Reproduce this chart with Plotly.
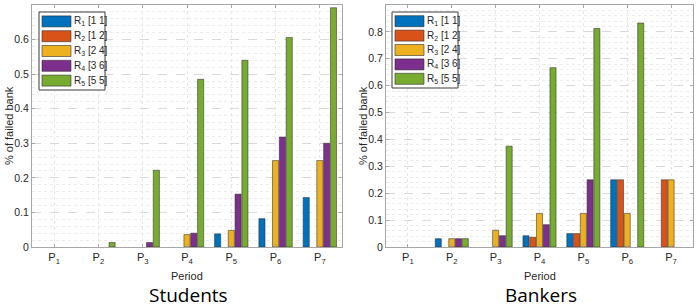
import plotly.graph_objects as go

periods = [1, 2, 3, 4, 5, 6, 7]
period_labels = ["P<sub>1</sub>", "P<sub>2</sub>", "P<sub>3</sub>", "P<sub>4</sub>",
                 "P<sub>5</sub>", "P<sub>6</sub>", "P<sub>7</sub>"]
series_names = ["R<sub>1</sub> [1 1]", "R<sub>2</sub> [1 2]", "R<sub>3</sub> [2 4]",
                "R<sub>4</sub> [3 6]", "R<sub>5</sub> [5 5]"]
colors = ["#0072BD", "#D95319", "#EDB120", "#7E2F8E", "#77AC30"]

# Students
students_R1 = [0, 0, 0, 0, 0.038, 0.082, 0.143]
students_R2 = [0, 0, 0, 0, 0, 0, 0]
students_R3 = [0, 0, 0, 0.036, 0.048, 0.25, 0.25]
students_R4 = [0, 0, 0.013, 0.040, 0.153, 0.318, 0.30]
students_R5 = [0, 0.013, 0.222, 0.485, 0.54, 0.606, 0.692]

# Bankers
bankers_R1 = [0, 0.031, 0, 0.042, 0.05, 0.25, 0]
bankers_R2 = [0, 0, 0, 0.036, 0.05, 0.25, 0.25]
bankers_R3 = [0, 0.031, 0.0625, 0.125, 0.125, 0.125, 0.25]
bankers_R4 = [0, 0.031, 0.042, 0.083, 0.25, 0, 0]
bankers_R5 = [0, 0.031, 0.375, 0.667, 0.8125, 0.833, 0]

students = [students_R1, students_R2, students_R3, students_R4, students_R5]
bankers = [bankers_R1, bankers_R2, bankers_R3, bankers_R4, bankers_R5]

W, H = 696, 308


def px(x):
    return x / W


def py(y):
    return 1 - y / H


fig = go.Figure()

for i, (vals, name, col) in enumerate(zip(students, series_names, colors)):
    fig.add_trace(go.Bar(x=periods, y=[v if v > 0 else None for v in vals], name=name,
                         marker=dict(color=col, line=dict(color="rgba(40,40,40,0.75)", width=0.7)),
                         xaxis="x", yaxis="y", showlegend=False, offsetgroup=str(i)))
for i, (vals, name, col) in enumerate(zip(bankers, series_names, colors)):
    fig.add_trace(go.Bar(x=periods, y=[v if v > 0 else None for v in vals], name=name,
                         marker=dict(color=col, line=dict(color="rgba(40,40,40,0.75)", width=0.7)),
                         xaxis="x2", yaxis="y2", showlegend=False, offsetgroup=str(i)))

xtickfont = dict(family="Liberation Sans, Arial", size=11, color="#262626")
ytickfont = dict(family="Liberation Sans, Arial", size=10.5, color="#262626")
xcommon = dict(range=[0.5, 7.5], tickvals=periods, ticktext=period_labels,
               showline=True, linecolor="#a6a6a6", linewidth=1, mirror="ticks",
               ticks="inside", ticklen=3, tickcolor="#a6a6a6", automargin=False,
               showgrid=True, gridcolor="#e6e6e6", griddash="dot", gridwidth=1,
               zeroline=False, tickfont=xtickfont)
ycommon = dict(showline=True, linecolor="#a6a6a6", linewidth=1, mirror="ticks",
               ticks="inside", ticklen=3, tickcolor="#a6a6a6", dtick=0.1, tick0=0,
               automargin=False,
               showgrid=True, gridcolor="#d9d9d9", griddash="dash", gridwidth=1,
               minor=dict(dtick=0.02, showgrid=True, gridcolor="#ececec", griddash="dot", ticks=""),
               zeroline=False, tickfont=ytickfont)

fig.update_layout(
    width=W, height=H,
    margin=dict(l=0, r=0, t=0, b=0, autoexpand=False),
    paper_bgcolor="white", plot_bgcolor="white",
    barmode="group", bargap=0.23, bargroupgap=0.1,
    xaxis=dict(domain=[px(32), px(342)], anchor="y", **xcommon),
    yaxis=dict(domain=[py(247), py(5)], anchor="x", range=[0, 0.7], **ycommon),
    xaxis2=dict(domain=[px(386), px(693)], anchor="y2", **xcommon),
    yaxis2=dict(domain=[py(247), py(5)], anchor="x2", range=[0, 0.9], **ycommon),
    showlegend=False,
)

shapes = []
annotations = []


def add_legend(x0, x1, y0, y1, patch_x0, patch_x1, text_x):
    shapes.append(dict(type="rect", xref="paper", yref="paper",
                       x0=px(x0), x1=px(x1), y0=py(y1), y1=py(y0),
                       line=dict(color="#3a3a3a", width=1), fillcolor="white", layer="above"))
    pitch = (y1 - y0 - 4) / 5
    for k in range(5):
        cy = y0 + 2 + pitch * (k + 0.5)
        shapes.append(dict(type="rect", xref="paper", yref="paper",
                           x0=px(patch_x0), x1=px(patch_x1), y0=py(cy + 5.5), y1=py(cy - 5.5),
                           line=dict(color="rgba(40,40,40,0.8)", width=0.7),
                           fillcolor=colors[k], layer="above"))
        annotations.append(dict(xref="paper", yref="paper", x=px(text_x), y=py(cy),
                                text=series_names[k], showarrow=False, xanchor="left",
                                yanchor="middle",
                                font=dict(family="Liberation Sans, Arial", size=10, color="#262626")))


add_legend(39, 105, 12, 90, 42, 71, 72)
add_legend(392, 458, 12, 88, 395, 424, 425)

labfont = dict(family="Liberation Sans, Arial", size=11, color="#262626")
for cx in [(32 + 342) / 2, (386 + 693) / 2]:
    annotations.append(dict(xref="paper", yref="paper", x=px(cx), y=py(276), text="Period",
                            showarrow=False, xanchor="center", yanchor="middle", font=labfont))
for cx in [9, 363]:
    annotations.append(dict(xref="paper", yref="paper", x=px(cx), y=py(126), text="% of failed bank",
                            showarrow=False, xanchor="center", yanchor="middle", textangle=-90,
                            font=labfont))

titlefont = dict(family="Open Sans, Noto Sans", size=19, color="black")
annotations.append(dict(xref="paper", yref="paper", x=px(188), y=py(294.5), text="Students",
                        showarrow=False, xanchor="center", yanchor="middle",
                        font=titlefont))
annotations.append(dict(xref="paper", yref="paper", x=px(541), y=py(294.5), text="Bankers",
                        showarrow=False, xanchor="center", yanchor="middle",
                        font=titlefont))

fig.update_layout(shapes=shapes, annotations=annotations)
fig.write_html("out.html", config={"displayModeBar": False},
               post_script="document.body.style.margin='0';document.body.style.overflow='hidden';")
